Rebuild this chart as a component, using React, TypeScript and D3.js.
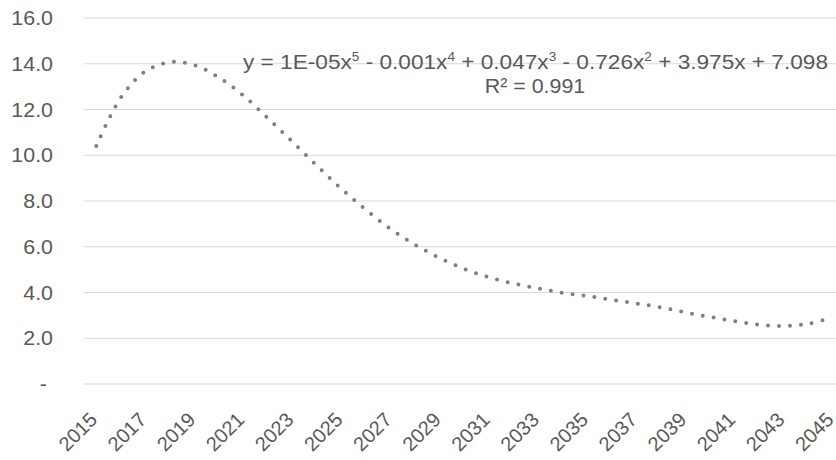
import React from "react";
import * as d3 from "d3";

const years = [
  2015, 2016, 2017, 2018, 2019, 2020, 2021, 2022, 2023, 2024, 2025, 2026, 2027, 2028, 2029, 2030,
  2031, 2032, 2033, 2034, 2035, 2036, 2037, 2038, 2039, 2040, 2041, 2042, 2043, 2044, 2045,
];
const trendValues = [
  10.4, 12.52, 13.67, 14.07, 13.94, 13.4, 12.6, 11.61, 10.58, 9.53, 8.52, 7.6, 6.77, 6.08, 5.5, 5.03,
  4.66, 4.39, 4.18, 3.98, 3.85, 3.68, 3.52, 3.35, 3.13, 2.93, 2.75, 2.59, 2.54, 2.63, 2.92,
];
const yTicks = [0, 2, 4, 6, 8, 10, 12, 14, 16];
const yTickLabels = ["-", "2.0", "4.0", "6.0", "8.0", "10.0", "12.0", "14.0", "16.0"];
const xTickYears = [2015, 2017, 2019, 2021, 2023, 2025, 2027, 2029, 2031, 2033, 2035, 2037, 2039, 2041, 2043, 2045];
const equationParts: [string, boolean][] = [
  ["y = 1E-05x", false], ["5", true], [" - 0.001x", false], ["4", true], [" + 0.047x", false], ["3", true],
  [" - 0.726x", false], ["2", true], [" + 3.975x + 7.098", false],
];
const rSquaredText = "R² = 0.991";

const W = 836;
const H = 460;
const FONT = "'Liberation Sans', Arial, sans-serif";
const TEXT_COLOR = "#595959";
const SX = 1.07;

export default function App() {
  const x = d3.scaleBand<number>().domain(years).range([84, 845]).paddingInner(0).paddingOuter(0);
  const y = d3.scaleLinear().domain([0, 16]).range([384, 18]);
  const cx = (yr: number) => (x(yr) as number) + x.bandwidth() / 2;

  const line = d3
    .line<number>()
    .x((_, i) => cx(years[i]))
    .y((d) => y(d))
    .curve(d3.curveCatmullRom.alpha(0.5));

  return (
    <svg
      width={W}
      height={H}
      style={{ position: "absolute", left: 0, top: 0, background: "#fff" }}
      fontFamily={FONT}
    >
      {yTicks.map((t) => (
        <line key={t} x1={84} x2={W} y1={y(t)} y2={y(t)} stroke="#d9d9d9" strokeWidth={1} />
      ))}
      {yTicks.map((t, i) => (
        <g key={"yl" + t} transform={`translate(${t === 0 ? 47 : 53},${y(t)}) scale(${SX},1)`}>
          <text dy="0.35em" textAnchor="end" fontSize={20} fill={TEXT_COLOR}>
            {yTickLabels[i]}
          </text>
        </g>
      ))}
      {xTickYears.map((yr) => (
        <text
          key={"xl" + yr}
          transform={`translate(${cx(yr) - 2.8},${416}) rotate(-45)`}
          textAnchor="end"
          dy="0.35em"
          fontSize={20}
          fill={TEXT_COLOR}
        >
          {yr}
        </text>
      ))}
      <path
        d={line(trendValues) || ""}
        fill="none"
        stroke="#7f7f7f"
        strokeWidth={4}
        strokeLinecap="round"
        strokeDasharray="0 11"
      />
      <text
        x={243}
        y={69}
        textAnchor="start"
        fontSize={20}
        fill={TEXT_COLOR}
        textLength={585}
        lengthAdjust="spacingAndGlyphs"
      >
        {equationParts.map(([s, sup], i) =>
          sup ? (
            <tspan key={i} fontSize={12} dy="-8">
              {s}
            </tspan>
          ) : (
            <tspan key={i} dy={i > 0 && equationParts[i - 1][1] ? "8" : undefined}>
              {s}
            </tspan>
          )
        )}
      </text>
      <g transform={`translate(535,93) scale(${SX},1)`}>
        <text textAnchor="middle" fontSize={20} fill={TEXT_COLOR}>
          {rSquaredText}
        </text>
      </g>
    </svg>
  );
}
